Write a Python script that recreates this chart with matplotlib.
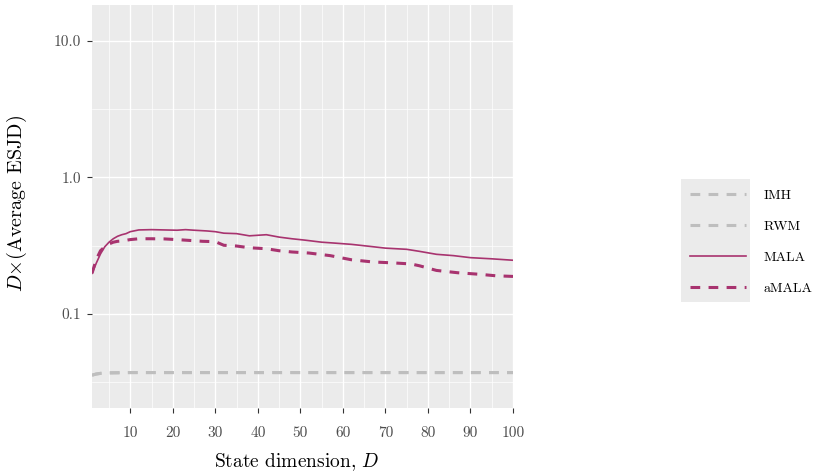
import matplotlib
matplotlib.use("Agg")
import matplotlib.pyplot as plt
from matplotlib.patches import Rectangle
import numpy as np

plt.rcParams['font.family'] = 'serif'
plt.rcParams['font.serif'] = ['cmr10', 'DejaVu Serif']
plt.rcParams['mathtext.fontset'] = 'cm'
plt.rcParams['axes.formatter.use_mathtext'] = True
plt.rcParams['lines.scale_dashes'] = False

# values (D x average ESJD)
d_flat = [1, 2, 3, 5, 10, 20, 40, 60, 80, 100]
imh = [0.0355, 0.0362, 0.0366, 0.0369, 0.0371, 0.0371, 0.0371, 0.0371, 0.0371, 0.0371]
rwm = [0.0355, 0.0362, 0.0366, 0.0369, 0.0371, 0.0371, 0.0371, 0.0371, 0.0371, 0.0371]

d_mala = [1, 2, 3, 4, 5, 6, 7, 8, 9, 10, 12, 15, 18, 21, 23, 25, 28, 30, 32, 35,
          38, 42, 45, 48, 51, 55, 58, 62, 66, 70, 75, 78, 82, 86, 90, 95, 100]
mala = [0.198, 0.235, 0.275, 0.31, 0.335, 0.355, 0.37, 0.38, 0.387, 0.40, 0.412, 0.414,
        0.412, 0.41, 0.414, 0.41, 0.405, 0.40, 0.39, 0.387, 0.373, 0.38, 0.365, 0.355,
        0.347, 0.335, 0.33, 0.323, 0.313, 0.303, 0.297, 0.287, 0.273, 0.267, 0.258,
        0.253, 0.247]

d_amala = [1, 2, 3, 4, 5, 6, 7, 8, 10, 12, 15, 18, 21, 24, 27, 30, 32, 35, 38, 42,
           45, 48, 52, 57, 62, 67, 72, 76, 78, 82, 87, 92, 96, 100]
amala = [0.198, 0.25, 0.29, 0.31, 0.325, 0.335, 0.34, 0.342, 0.35, 0.355, 0.355, 0.354,
         0.35, 0.345, 0.34, 0.338, 0.318, 0.314, 0.305, 0.30, 0.29, 0.284, 0.279, 0.267,
         0.249, 0.24, 0.236, 0.232, 0.225, 0.208, 0.20, 0.195, 0.19, 0.188]

labels = ['IMH', 'RWM', 'MALA', 'aMALA']
x_ticks = [10, 20, 30, 40, 50, 60, 70, 80, 90, 100]
y_ticks = [0.1, 1.0, 10.0]
y_ticklabels = ['0.1', '1.0', '10.0']

grey = '#BEBEBE'
purple = '#A8336F'

fig = plt.figure(figsize=(8.23, 4.73), dpi=100)
ax = fig.add_axes([92/823, 1-408/473, (513-92)/823, (408-5)/473])
ax.set_facecolor('#EBEBEB')

# ggplot-like grid
ax.set_yscale('log')
ax.set_xlim(1, 100)
ax.set_ylim(0.0204, 18.35)
for x in np.arange(5, 100, 10):
    ax.axvline(x, color='white', lw=0.5, zorder=0)
for x in x_ticks:
    ax.axvline(x, color='white', lw=1.0, zorder=0)
for y in [0.0316, 0.316, 3.16]:
    ax.axhline(y, color='white', lw=0.5, zorder=0)
for y in y_ticks:
    ax.axhline(y, color='white', lw=1.0, zorder=0)

dash = (0, (7, 6))
ax.plot(d_flat, imh, color=grey, lw=2.2, linestyle=dash, label=labels[0])
ax.plot(d_flat, rwm, color=grey, lw=2.2, linestyle=dash, label=labels[1])
ax.plot(d_mala, mala, color=purple, lw=1.2, label=labels[2])
ax.plot(d_amala, amala, color=purple, lw=2.2, linestyle=dash, label=labels[3])

ax.set_xticks(x_ticks)
ax.set_xticklabels([str(v) for v in x_ticks])
ax.set_yticks(y_ticks)
ax.set_yticklabels(y_ticklabels)
ax.minorticks_off()
ax.tick_params(axis='both', length=3.6, width=0.8, color='#333333',
               labelcolor='#4D4D4D', labelsize=11)
ax.tick_params(axis='x', pad=9.5)
ax.tick_params(axis='y', pad=4)
for s in ax.spines.values():
    s.set_visible(False)

fig.text(297/823, 1-462/473, 'State dimension, $D$', fontsize=14,
         ha='center', va='center')
fig.text(17/823, 1-204/473, r'$D{\times}$(Average ESJD)', fontsize=14.5,
         ha='center', va='center', rotation=90)

# legend key background
fig.patches.append(Rectangle((681/823, 1-302/473), 69/823, 123/473,
                             transform=fig.transFigure, facecolor='#EBEBEB',
                             edgecolor='none', zorder=0))
fig.legend(loc='center left', bbox_to_anchor=(683/823, 1-242/473), frameon=False,
           fontsize=10, handlelength=4.0, handletextpad=1.3, labelspacing=1.32,
           borderpad=0)

fig.savefig('out.png', dpi=100)
